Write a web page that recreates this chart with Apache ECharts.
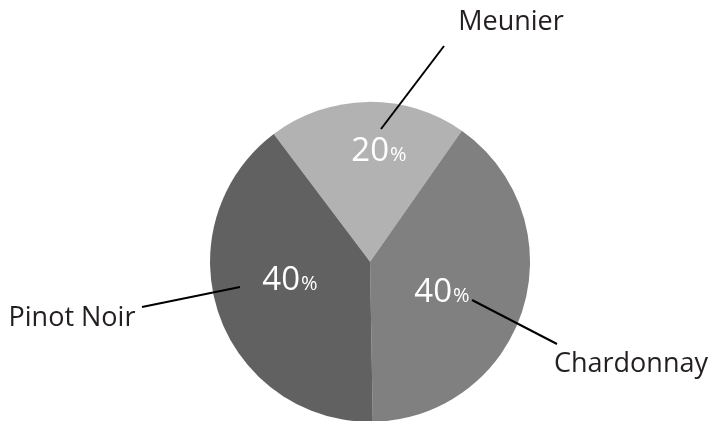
<!DOCTYPE html>
<html>
<head>
<meta charset="utf-8">
<script src="https://cdn.jsdelivr.net/npm/echarts@6/dist/echarts.min.js"></script>
<style>
html,body{margin:0;padding:0;background:#fff;}
#chart{width:716px;height:421px;}
</style>
</head>
<body>
<div id="chart"></div>
<script>
var categories = ['Meunier', 'Chardonnay', 'Pinot Noir'];
var values = [20, 40, 40];
var percentLabels = ['20', '40', '40'];

var sliceColors = ['#b2b2b2', '#808080', '#616161'];
// label layout (pixels in the 716x421 canvas)
var innerLabelPos = [[379, 150], [442, 291], [290, 279]];
var outerLabelPos = [[511, 22], [631, 364], [72, 318]];
var lineStart = [[381, 129], [472, 300], [240, 287]];
var lineEnd = [[444, 46], [557, 344], [142, 307]];

var chart = echarts.init(document.getElementById('chart'), null, {renderer: 'canvas'});
var font = "'Open Sans', 'Noto Sans', sans-serif";

var baseData = categories.map(function (c, i) {
  return {name: c, value: values[i], itemStyle: {color: sliceColors[i]}};
});
var overlayData = categories.map(function (c, i) {
  return {name: c, value: values[i]};
});

chart.setOption({
  animation: false,
  backgroundColor: '#ffffff',
  series: [
    {
      type: 'pie',
      z: 2,
      center: ['51.68%', '62.2%'],
      radius: [0, 160],
      startAngle: 127,
      clockwise: true,
      avoidLabelOverlap: false,
      silent: true,
      itemStyle: {borderWidth: 0},
      data: baseData,
      label: {
        show: true,
        position: 'inside',
        formatter: function (p) { return '{n|' + percentLabels[p.dataIndex] + '}{p|%}'; },
        rich: {
          n: {fontFamily: font, fontSize: 33, color: '#ffffff', verticalAlign: 'bottom', lineHeight: 36},
          p: {fontFamily: font, fontSize: 20, color: '#ffffff', verticalAlign: 'bottom', lineHeight: 26, padding: [0, 0, 3, 1]}
        }
      },
      labelLine: {show: false},
      labelLayout: function (params) {
        var p = innerLabelPos[params.dataIndex];
        return {x: p[0], y: p[1], align: 'center', verticalAlign: 'middle'};
      }
    },
    {
      type: 'pie',
      z: 5,
      center: ['51.68%', '62.2%'],
      radius: [0, 160],
      startAngle: 127,
      clockwise: true,
      avoidLabelOverlap: false,
      silent: true,
      itemStyle: {color: 'rgba(0,0,0,0)', borderWidth: 0},
      data: overlayData,
      label: {
        show: true,
        position: 'outside',
        formatter: '{b}',
        fontFamily: font,
        fontSize: 27,
        color: '#231f20'
      },
      labelLine: {show: true, length: 10, length2: 10, lineStyle: {color: '#000000', width: 2}},
      labelLayout: function (params) {
        var i = params.dataIndex;
        var p = outerLabelPos[i];
        return {
          x: p[0], y: p[1], align: 'center', verticalAlign: 'middle',
          labelLinePoints: [lineStart[i], lineEnd[i], lineEnd[i]]
        };
      }
    }
  ]
});
</script>
</body>
</html>
